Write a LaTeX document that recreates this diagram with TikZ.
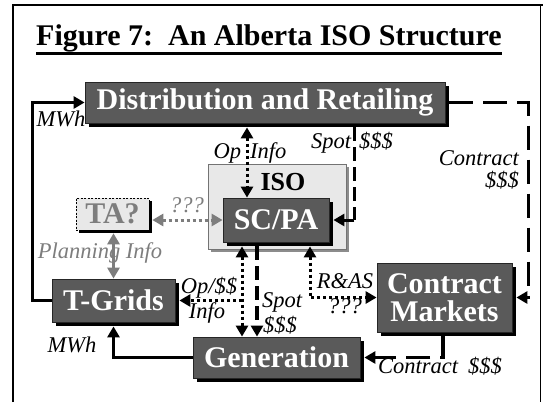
\documentclass[tikz,border=0pt]{standalone}
\usepackage{fontspec}
\setmainfont{Liberation Serif}
\usetikzlibrary{arrows.meta,shadows,calc}
\definecolor{boxgray}{RGB}{90,90,90}
\definecolor{lightbox}{RGB}{232,232,232}
\definecolor{labgray}{RGB}{125,125,125}
\tikzset{bigtri/.tip={Triangle[length=11pt,width=12pt]}}
\begin{document}
\begin{tikzpicture}[x=1pt,y=-1pt,
  darkbox/.style={rectangle, fill=boxgray, draw=black!85, line width=0.8pt, inner sep=0pt,
    text=white, align=center, font=\fontsize{30}{28}\selectfont\bfseries,
    drop shadow={shadow xshift=4pt, shadow yshift=-4pt, fill=black, opacity=1}},
  lbl/.style={font=\fontsize{22.5}{20}\selectfont\itshape, inner sep=0pt},
  glbl/.style={lbl, text=labgray},
  solidarr/.style={line width=3pt, -bigtri},
  dotl/.style={line width=3pt, dash pattern=on 3pt off 3pt},
  dashs/.style={line width=3.5pt, dash pattern=on 14pt off 6pt},
  dashl/.style={line width=3.5pt, dash pattern=on 24pt off 10pt}]
\useasboundingbox (0,0) rectangle (543,402);
% frame
\draw[line width=2.5pt] (13,402) -- (13,5) -- (543,5);
\draw[line width=1pt] (540,5) -- (540,402);
% title
\node[font=\fontsize{30}{30}\selectfont\bfseries, anchor=base, inner sep=0pt] (title) at (269,45) {Figure 7:\ \ An Alberta ISO Structure};
\draw[line width=2.5pt] ([yshift=-1.5pt]title.south west) -- ([yshift=-1.5pt]title.south east);
% boxes
\node[darkbox, minimum width=360pt, minimum height=41pt] (dist) at (265,102.5) {Distribution and Retailing};
\node[rectangle, fill=lightbox, draw=black!55, line width=0.8pt, minimum width=138pt, minimum height=85pt,
  drop shadow={shadow xshift=3pt, shadow yshift=-3pt, fill=black!45, opacity=1}] (iso) at (277,206.5) {};
\node[font=\fontsize{26}{26}\selectfont\bfseries, inner sep=0pt, anchor=base] (isolbl) at (283,190) {ISO};
\node[darkbox, minimum width=106pt, minimum height=44pt] (scpa) at (276,220) {SC/PA};
\node[rectangle, fill=lightbox, draw=black, dash pattern=on 2pt off 1.5pt, line width=0.6pt, inner sep=0pt,
  minimum width=73pt, minimum height=32pt, text=labgray, font=\fontsize{30}{30}\selectfont\bfseries,
  drop shadow={shadow xshift=3pt, shadow yshift=-3pt, fill=black, opacity=1}] (ta) at (112.5,214) {TA?};
\node[darkbox, minimum width=123pt, minimum height=43pt] (tgrids) at (113.5,300.5) {T-Grids};
\node[darkbox, minimum width=167pt, minimum height=41pt] (gen) at (276.5,357.5) {Generation};
\node[darkbox, minimum width=135pt, minimum height=69pt] (cm) at (444.5,297.5) {Contract\\Markets};
% coordinates
\coordinate (opx) at ([xshift=-29pt]scpa.north);
\coordinate (spx) at ([xshift=25pt]scpa.east);
\coordinate (tae) at ([xshift=3pt]ta.east);
\coordinate (tas) at ([yshift=-3pt]ta.south);
\coordinate (rc) at ($(cm.east)+(16,0)$);
\coordinate (ogx) at ([xshift=-34pt]scpa.south);
\coordinate (sgx) at ([xshift=-19pt]scpa.south);
\coordinate (rax) at ([xshift=34pt]scpa.south);
% connectors
\draw[solidarr] (tgrids.west) -- ++(-19,0) |- (dist.west);
\draw[solidarr] (gen.west) -| ([yshift=-4pt]tgrids.south);
\draw[dashl, -bigtri] ([xshift=4pt]dist.east) -| (rc) -- ([xshift=4pt]cm.east);
\draw[dashl, -bigtri] ([xshift=-1.5pt, yshift=-4pt]cm.south) |- ([xshift=4pt]gen.east);
\draw[dotl, bigtri-bigtri] (opx |- dist.south) ++(0,4) -- (opx);
\draw[dashs] (spx |- dist.south) ++(0,4) -- (spx);
\draw[solidarr] (spx) -- ([xshift=4pt]scpa.east);
\draw[dotl, labgray, bigtri-bigtri] (tae |- scpa.west) -- (scpa.west);
\draw[line width=3pt, labgray, bigtri-bigtri] (tgrids.north |- tas) -- (tgrids.north);
\draw[dotl, bigtri-bigtri] ([yshift=-4pt]ogx) -- (ogx |- gen.north);
\draw[dotl, -bigtri] (ogx |- tgrids.east) -- ([xshift=4pt]tgrids.east);
\draw[dashs, -bigtri] ([yshift=-4pt]sgx) -- (sgx |- gen.north);
\draw[dotl, bigtri-bigtri] ([yshift=-4pt]rax) |- (cm.west);
% labels
\node[lbl, anchor=base] (mwh1) at (61,126) {MWh};
\node[lbl, anchor=base] (mwh2) at (72,352) {MWh};
\node[lbl, anchor=base] (opinfo) at (250,158) {Op\hspace{9pt}Info};
\node[lbl, anchor=base] (spot1) at (352,148) {Spot\hspace{8pt}\$\$\$};
\node[lbl, anchor=base east] (ctr1a) at (519,165) {Contract};
\node[lbl, anchor=base east] (ctr1b) at (519,187) {\$\$\$};
\node[glbl, anchor=base] (qq1) at (187,212) {???};
\node[glbl, anchor=base] (plan) at (100,258) {Planning Info};
\node[lbl, anchor=base] (opss) at (209,293) {Op/\$\$};
\node[lbl, anchor=base] (info2) at (207,318) {Info};
\node[lbl, anchor=base west] (spot2) at (262,307) {Spot};
\node[lbl, anchor=base west] (spot2b) at (263,332) {\$\$\$};
\node[lbl, anchor=base] (ras) at (345,288) {R\&AS};
\node[lbl, anchor=base] (qq2) at (345,313) {???};
\node[lbl, anchor=base] (ctr2) at (440,373) {Contract\hspace{10pt}\$\$\$};
\end{tikzpicture}
\end{document}
